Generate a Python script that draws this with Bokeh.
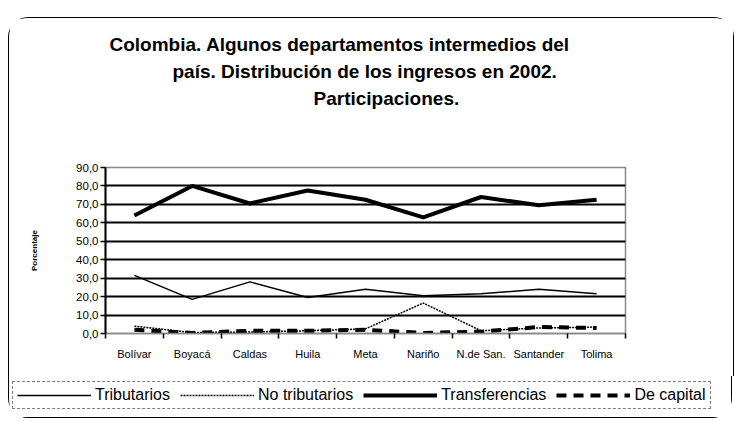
from bokeh.plotting import figure
from bokeh.models import (Range1d, FixedTicker, Legend, LegendItem, Title,
                          CustomJSTickFormatter)
from bokeh.embed import file_html
from bokeh.resources import INLINE

departamentos = ["Bolívar", "Boyacá", "Caldas", "Huila", "Meta", "Nariño",
                 "N.de San.", "Santander", "Tolima"]
tributarios = [31.5, 18.5, 28.0, 19.5, 24.0, 20.5, 21.5, 24.0, 21.5]
no_tributarios = [4.0, 0.5, 0.8, 1.5, 2.5, 16.5, 1.5, 3.0, 3.5]
transferencias = [64.0, 80.0, 70.5, 77.5, 72.5, 63.0, 74.0, 69.5, 72.5]
de_capital = [2.0, 0.3, 1.5, 1.5, 2.0, 0.3, 1.0, 3.5, 3.0]
y_ticks = [0, 10, 20, 30, 40, 50, 60, 70, 80, 90]
series_names = ["Tributarios", "No tributarios", "Transferencias", "De capital"]
title_lines = ["Colombia. Algunos departamentos intermedios del",
               "país. Distribución de los ingresos en 2002.",
               "Participaciones."]
title_offsets = [4, 67, 208]

xpos = [i + 0.5 for i in range(len(departamentos))]
FONT = "Liberation Sans"

p = figure(frame_width=520, frame_height=166, output_backend="svg",
           toolbar_location=None,
           x_range=Range1d(0, len(departamentos)), y_range=Range1d(0, 90),
           min_border_left=96, min_border_right=108, min_border_top=149,
           min_border_bottom=43)
p.styles = {"border-top": "1.5px solid black", "border-left": "1.5px solid black",
            "border-right": "1.5px solid black",
            "border-radius": "20px 20px 0 0",
            "margin-top": "17px", "margin-left": "8px"}
p.outline_line_color = "#888888"
p.outline_line_width = 1.5
p.background_fill_color = "white"

# axes
p.xaxis.ticker = FixedTicker(ticks=xpos, minor_ticks=list(range(len(departamentos) + 1)))
p.xaxis.major_label_overrides = {x: d for x, d in zip(xpos, departamentos)}
p.xaxis.major_tick_line_color = None
p.xaxis.minor_tick_in = 0
p.xaxis.minor_tick_out = 5
p.xaxis.minor_tick_line_color = "black"
p.xaxis.minor_tick_line_width = 1.5
p.xaxis.axis_line_color = "#888888"
p.xaxis.axis_line_width = 1.5
p.xaxis.major_label_text_font = FONT
p.xaxis.major_label_text_font_size = "11px"
p.xaxis.major_label_text_color = "black"
p.xaxis.major_label_standoff = 8

p.yaxis.ticker = FixedTicker(ticks=y_ticks)
p.yaxis.formatter = CustomJSTickFormatter(code="return tick.toFixed(1).replace('.', ',');")
p.yaxis.major_tick_in = 0
p.yaxis.major_tick_out = 5
p.yaxis.major_tick_line_width = 1.5
p.yaxis.minor_tick_line_color = None
p.yaxis.axis_line_width = 2
p.yaxis.major_label_text_font = FONT
p.yaxis.major_label_text_font_size = "11.5px"
p.yaxis.major_label_text_color = "black"
p.yaxis.major_label_standoff = 2
p.yaxis.axis_label = "Porcentaje"
p.yaxis.axis_label_text_font = FONT
p.yaxis.axis_label_text_font_size = "8px"
p.yaxis.axis_label_text_font_style = "bold"
p.yaxis.axis_label_text_color = "black"
p.yaxis.axis_label_standoff = 34

p.xgrid.grid_line_color = None
p.ygrid.ticker = FixedTicker(ticks=y_ticks[1:-1])
p.ygrid.grid_line_color = "black"
p.ygrid.grid_line_width = 2

styles = [dict(line_width=1.5),
          dict(line_width=1.5, line_dash="2 1"),
          dict(line_width=4),
          dict(line_width=4, line_dash="10 7")]
data = [tributarios, no_tributarios, transferencias, de_capital]
for vals, st in zip(data, styles):
    p.line(xpos, vals, line_color="black", **st)

# spacer between the frame and the title block
p.add_layout(Title(text=" ", text_font=FONT, text_font_size="19px",
                   standoff=34), "above")
# titles: added nearest-first
for t, off in reversed(list(zip(title_lines, title_offsets))):
    p.add_layout(Title(text=t, align="left", offset=off, text_font=FONT,
                       text_font_style="bold", text_font_size="19px",
                       text_color="black", standoff=4), "above")

# legend strip (separate root so its frame is not aligned with the chart)
lf = figure(width=724, height=42, output_backend="svg", toolbar_location=None,
            x_axis_type=None, y_axis_type=None, min_border=0,
            x_range=Range1d(0, len(departamentos)), y_range=Range1d(1000, 1001))
lf.styles = {"border-left": "1.5px solid black", "border-right": "1.5px solid black",
             "border-bottom": "1.5px solid black",
             "border-radius": "0 0 20px 20px", "margin-left": "8px"}
lf.outline_line_color = None
lf.grid.grid_line_color = None
items = []
for name, vals, st in zip(series_names, data, styles):
    r = lf.line(xpos, vals, line_color="black", **st)
    items.append(LegendItem(label=name, renderers=[r]))
legend = Legend(items=items, orientation="horizontal", location=(3, 9),
                glyph_width=74, glyph_height=16, label_standoff=4, spacing=10,
                padding=4, margin=0, label_height=18,
                label_text_font=FONT, label_text_font_size="16px",
                label_text_color="black",
                border_line_color="black", border_line_dash="2 1",
                border_line_width=1.2, background_fill_alpha=0)
lf.add_layout(legend)

open("out.html", "w").write(file_html([p, lf], INLINE))
